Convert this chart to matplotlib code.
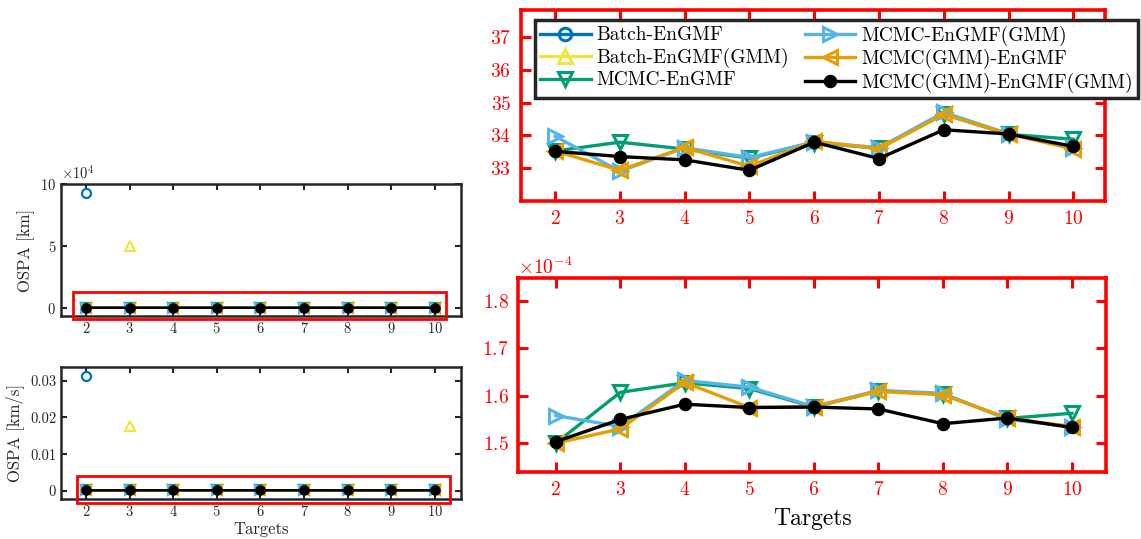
import numpy as np
import matplotlib
matplotlib.use('agg')
import matplotlib.pyplot as plt
from matplotlib.patches import Rectangle
from matplotlib.ticker import ScalarFormatter

plt.rcParams['font.family'] = 'serif'
plt.rcParams['font.serif'] = ['cmr10']
plt.rcParams['mathtext.fontset'] = 'cm'
plt.rcParams['axes.formatter.use_mathtext'] = True
plt.rcParams['axes.unicode_minus'] = False

nan = np.nan
targets = [2, 3, 4, 5, 6, 7, 8, 9, 10]

# OSPA position [km]
pos_batch = [9.27e4, nan, nan, nan, nan, nan, nan, nan, nan]
pos_batch_gmm = [nan, 5.0e4, nan, nan, nan, nan, nan, nan, nan]
pos_mcmc = [33.52, 33.79, 33.58, 33.30, 33.78, 33.60, 34.65, 34.03, 33.88]
pos_mcmc_gmm = [33.97, 32.90, 33.62, 33.32, 33.80, 33.62, 34.70, 34.05, 33.62]
pos_mcmcgmm = [33.52, 32.93, 33.63, 33.05, 33.82, 33.59, 34.64, 34.04, 33.58]
pos_mcmcgmm_gmm = [33.51, 33.35, 33.25, 32.93, 33.79, 33.29, 34.17, 34.04, 33.66]

# OSPA velocity [km/s]
vel_batch = [0.0313, nan, nan, nan, nan, nan, nan, nan, nan]
vel_batch_gmm = [nan, 0.0177, nan, nan, nan, nan, nan, nan, nan]
vel_mcmc = [1.500e-4, 1.607e-4, 1.627e-4, 1.615e-4, 1.576e-4, 1.610e-4, 1.603e-4, 1.552e-4, 1.563e-4]
vel_mcmc_gmm = [1.558e-4, 1.535e-4, 1.632e-4, 1.618e-4, 1.577e-4, 1.611e-4, 1.605e-4, 1.550e-4, 1.535e-4]
vel_mcmcgmm = [1.500e-4, 1.530e-4, 1.628e-4, 1.575e-4, 1.577e-4, 1.609e-4, 1.602e-4, 1.553e-4, 1.535e-4]
vel_mcmcgmm_gmm = [1.503e-4, 1.550e-4, 1.582e-4, 1.575e-4, 1.576e-4, 1.572e-4, 1.541e-4, 1.553e-4, 1.533e-4]

labels = ['Batch-EnGMF', 'Batch-EnGMF(GMM)', 'MCMC-EnGMF',
          'MCMC-EnGMF(GMM)', 'MCMC(GMM)-EnGMF', 'MCMC(GMM)-EnGMF(GMM)']
colors = ['#0072BD', '#F0E442', '#009E73', '#56B4E9', '#E69F00', 'black']
markers = ['o', '^', 'v', '>', '<', 'o']

pos_all = [pos_batch, pos_batch_gmm, pos_mcmc, pos_mcmc_gmm, pos_mcmcgmm, pos_mcmcgmm_gmm]
vel_all = [vel_batch, vel_batch_gmm, vel_mcmc, vel_mcmc_gmm, vel_mcmcgmm, vel_mcmcgmm_gmm]

gray = '#262626'
fig = plt.figure(figsize=(11.41, 5.39), dpi=100)

ax1 = fig.add_axes([0.0535, 0.4137, 0.3506, 0.2443])
ax2 = fig.add_axes([0.0535, 0.0742, 0.3506, 0.2449])
ax3 = fig.add_axes([0.4564, 0.6276, 0.5121, 0.3538])
ax4 = fig.add_axes([0.4543, 0.1249, 0.5151, 0.3588])


def draw(ax, data, big):
    ms = [9, 10, 10, 10, 10, 7.5] if big else [6.5, 7.5, 7.5, 7.5, 7.5, 6]
    lw = 2.4 if big else 1.8
    for i, y in enumerate(data):
        filled = i == 5
        ax.plot(targets, y, color=colors[i], marker=markers[i], lw=lw,
                ms=ms[i], mew=2.2 if big else 1.6,
                mfc=colors[i] if filled else 'none', label=labels[i])
    ax.set_xticks(targets)
    ax.tick_params(direction='in', top=True, right=True)


for ax, data in [(ax1, pos_all), (ax2, vel_all)]:
    draw(ax, data, False)
    ax.set_xlim(1.43, 10.6)
    ax.tick_params(labelsize=10.5, colors=gray, length=4, width=1.5)
    for s in ax.spines.values():
        s.set_color(gray)
        s.set_linewidth(1.8)

ax1.set_ylim(-0.67e4, 10e4)
ax1.set_yticks([0, 5e4, 10e4])
fmt = ScalarFormatter(useMathText=True)
fmt.set_powerlimits((4, 4))
ax1.yaxis.set_major_formatter(fmt)
ax1.yaxis.get_offset_text().set_fontsize(10.5)
ax1.yaxis.get_offset_text().set_color(gray)
ax1.set_ylabel('OSPA [km]', fontsize=12, color=gray)

ax2.set_ylim(-0.0022, 0.0337)
ax2.set_yticks([0, 0.01, 0.02, 0.03])
ax2.set_yticklabels(['0', '0.01', '0.02', '0.03'])
ax2.set_ylabel('OSPA [km/s]', fontsize=12, color=gray)
ax2.set_xlabel('Targets', fontsize=12, color=gray, labelpad=2)

for ax, data in [(ax3, pos_all), (ax4, vel_all)]:
    draw(ax, data, True)
    ax.tick_params(labelsize=14, colors='red', length=7, width=2.2, pad=7)
    for s in ax.spines.values():
        s.set_color('red')
        s.set_linewidth(2.6)

ax3.set_xlim(1.47, 10.49)
ax3.set_ylim(32.0, 37.83)
ax3.set_yticks([33, 34, 35, 36, 37])

ax4.set_xlim(1.42, 10.53)
ax4.set_ylim(1.44e-4, 1.847e-4)
ax4.set_yticks([1.5e-4, 1.6e-4, 1.7e-4, 1.8e-4])
fmt4 = ScalarFormatter(useMathText=True)
fmt4.set_powerlimits((0, 0))
ax4.yaxis.set_major_formatter(fmt4)
ax4.yaxis.get_offset_text().set_fontsize(14)
ax4.yaxis.get_offset_text().set_color('red')
ax4.set_xlabel('Targets', fontsize=17, color='black', labelpad=6)

lg = ax3.legend(loc='upper left', bbox_to_anchor=(0.024, 0.948), borderaxespad=0,
                ncol=2, fontsize=14, handlelength=2.6, labelspacing=0.18,
                columnspacing=0.8, handletextpad=0.3, borderpad=0.28,
                fancybox=False, framealpha=1, edgecolor=gray)
lg.get_frame().set_linewidth(2.5)

fig.patches.append(Rectangle((0.064, 0.4082), 0.3269, 0.0501, transform=fig.transFigure,
                             fill=False, edgecolor='red', lw=2, zorder=10))
fig.patches.append(Rectangle((0.0675, 0.0668), 0.3269, 0.0501, transform=fig.transFigure,
                             fill=False, edgecolor='red', lw=2, zorder=10))

fig.savefig('out.png', dpi=100)
